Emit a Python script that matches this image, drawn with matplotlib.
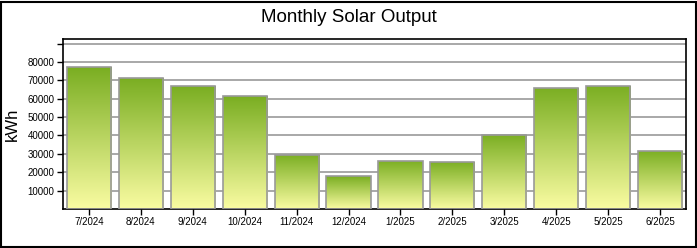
import numpy as np
import matplotlib.pyplot as plt
from matplotlib.patches import Rectangle
from matplotlib.colors import LinearSegmentedColormap

plt.rcParams['font.family'] = ['Liberation Sans', 'DejaVu Sans']

months = ['7/2024', '8/2024', '9/2024', '10/2024', '11/2024', '12/2024',
          '1/2025', '2/2025', '3/2025', '4/2025', '5/2025', '6/2025']
output_kwh = [77200, 71100, 66800, 61300, 29500, 17700,
              26300, 25700, 40400, 65900, 67000, 31700]
ytick_vals = [10000, 20000, 30000, 40000, 50000, 60000, 70000, 80000, 90000]

fig = plt.figure(figsize=(6.97, 2.48), dpi=100)
ax = fig.add_axes([63 / 697, 39 / 248, 623 / 697, 170 / 248])

x = np.arange(len(months))
bars = ax.bar(x, output_kwh, width=0.85, color='none', edgecolor='#999999',
              linewidth=1.2, zorder=3)

# vertical gradient fill, yellow at bottom to green at top
cmap = LinearSegmentedColormap.from_list('sol', ['#fafca2', '#7aae22'])
grad = np.linspace(0, 1, 256).reshape(-1, 1)
for b in bars:
    x0, y0 = b.get_x(), b.get_y()
    w, h = b.get_width(), b.get_height()
    im = ax.imshow(grad, cmap=cmap, origin='lower', aspect='auto',
                   extent=[x0, x0 + w, y0, y0 + h], zorder=2)
    im.set_clip_path(b)

ax.set_xlim(-0.5, len(months) - 0.5)
ax.set_ylim(0, 92500)
ax.set_xticks(x)
ax.set_xticklabels(months, fontsize=7)
ax.set_yticks(ytick_vals)
ax.set_yticklabels([str(v) if v < 90000 else '' for v in ytick_vals], fontsize=7)
ax.tick_params(axis='both', length=4, width=1, color='black', pad=2)
ax.yaxis.grid(True, color='#999999', linewidth=1.2, zorder=1)
ax.set_axisbelow(True)
for s in ax.spines.values():
    s.set_linewidth(1.2)
ax.set_ylabel('kWh', fontsize=12)
ax.yaxis.set_label_coords(-43 / 623, 0.5)

fig.text(0.5, 1 - 17 / 248, 'Monthly Solar Output', ha='center', va='center',
         fontsize=13.5)
fig.patches.append(Rectangle((0.5 / 697, 1.5 / 248), 695 / 697, 245 / 248,
                             transform=fig.transFigure, fill=False,
                             edgecolor='black', linewidth=1.5))

fig.savefig('out.png', dpi=100)
